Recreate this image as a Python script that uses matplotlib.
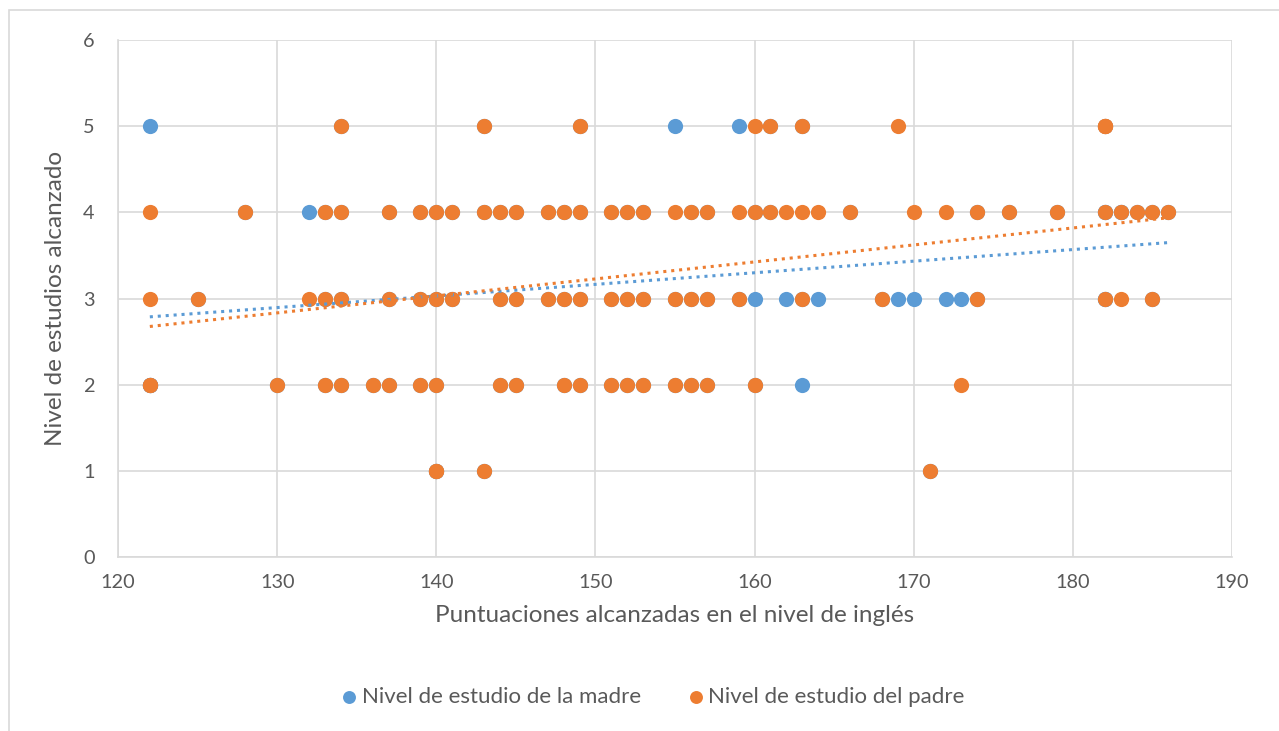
import numpy as np
import matplotlib.pyplot as plt
from matplotlib.patches import Rectangle

plt.rcParams['font.family'] = ['Lato', 'DejaVu Sans']

# one entry per student: score, mother's level, father's level
puntuacion = [122, 122, 122, 122, 125, 128, 130, 132,
              133, 133, 133, 134, 134, 134, 134, 136,
              137, 137, 137, 139, 139, 139, 140, 140, 140, 140, 140,
              141, 141, 143, 143, 143, 144, 144, 144, 145, 145, 145,
              147, 147, 148, 148, 148, 149, 149, 149, 149,
              151, 151, 151, 152, 152, 152, 153, 153, 153,
              155, 155, 155, 156, 156, 156, 157, 157, 157,
              159, 159, 160, 160, 160, 161, 161, 162, 163, 163, 163,
              164, 166, 168, 169, 170, 171, 172, 173, 174, 174,
              176, 179, 182, 182, 182, 182, 182, 183, 183, 184, 185, 185, 186]
madre = [5, 2, 2, 2, 3, 4, 2, 4,
         4, 3, 2, 5, 4, 3, 2, 2,
         4, 3, 2, 4, 3, 2, 4, 3, 2, 1, 1,
         4, 3, 5, 4, 1, 4, 3, 2, 4, 3, 2,
         4, 3, 4, 3, 2, 5, 4, 3, 2,
         4, 3, 2, 4, 3, 2, 4, 3, 2,
         5, 3, 2, 4, 3, 2, 4, 3, 2,
         5, 3, 3, 4, 2, 5, 4, 3, 5, 2, 3,
         3, 4, 3, 3, 3, 1, 3, 3, 4, 3,
         4, 4, 5, 4, 3, 3, 4, 4, 4, 4, 4, 3, 4]
padre = [4, 3, 2, 2, 3, 4, 2, 3,
         4, 3, 2, 5, 4, 3, 2, 2,
         4, 3, 2, 4, 3, 2, 4, 3, 2, 1, 1,
         4, 3, 5, 4, 1, 4, 3, 2, 4, 3, 2,
         4, 3, 4, 3, 2, 5, 4, 3, 2,
         4, 3, 2, 4, 3, 2, 4, 3, 2,
         4, 3, 2, 4, 3, 2, 4, 3, 2,
         4, 3, 5, 4, 2, 5, 4, 4, 5, 4, 3,
         4, 4, 3, 5, 4, 1, 4, 2, 4, 3,
         4, 4, 5, 4, 3, 5, 5, 4, 3, 4, 4, 3, 4]

azul = '#5b9bd5'
naranja = '#ed7d31'
gris = '#595959'

fig = plt.figure(figsize=(12.79, 7.31), dpi=100)
ax = fig.add_axes([118/1279, 1 - 557/731, (1232-118)/1279, (557-40)/731])

# outer chart border
fig.add_artist(Rectangle((9/1279, -0.1), 1.2, 1 - 10/731 + 0.1, transform=fig.transFigure,
                         fill=False, edgecolor='#d9d9d9', linewidth=1.2))

x = np.array(puntuacion)
ax.scatter(x, madre, s=120, color=azul, zorder=3, linewidths=0, label='Nivel de estudio de la madre')
ax.scatter(x, padre, s=120, color=naranja, zorder=4, linewidths=0, label='Nivel de estudio del padre')

# linear trendlines
xs = np.array([x.min(), x.max()])
for serie, col in [(madre, azul), (padre, naranja)]:
    m, b = np.polyfit(x, serie, 1)
    ax.plot(xs, m*xs + b, color=col, linestyle=(0, (1, 1.6)), linewidth=2.2, zorder=5)

ax.set_xlim(120, 190)
ax.set_ylim(0, 6)
ax.set_xticks(range(120, 191, 10))
ax.set_yticks(range(0, 7))
ax.grid(True, color='#d9d9d9', linewidth=1.2, zorder=0)
ax.set_axisbelow(True)
for s in ['top', 'right']:
    ax.spines[s].set_visible(False)
for s in ['left', 'bottom']:
    ax.spines[s].set_color('#d9d9d9')
    ax.spines[s].set_linewidth(1.2)
ax.tick_params(length=0, labelsize=14.3, colors=gris)
ax.tick_params(axis='x', pad=12)
ax.tick_params(axis='y', pad=17)

ax.set_xlabel('Puntuaciones alcanzadas en el nivel de inglés', fontsize=17.5, color=gris, labelpad=10)
ax.set_ylabel('Nivel de estudios alcanzado', fontsize=17.5, color=gris, labelpad=12)

leg = fig.legend(loc='center', bbox_to_anchor=(646/1279, 1 - 697/731), ncol=2, frameon=False,
                 fontsize=16, handletextpad=-0.45, columnspacing=1.5, markerscale=0.85)
for t in leg.get_texts():
    t.set_color(gris)

fig.savefig('out.png', dpi=100, facecolor='white')
